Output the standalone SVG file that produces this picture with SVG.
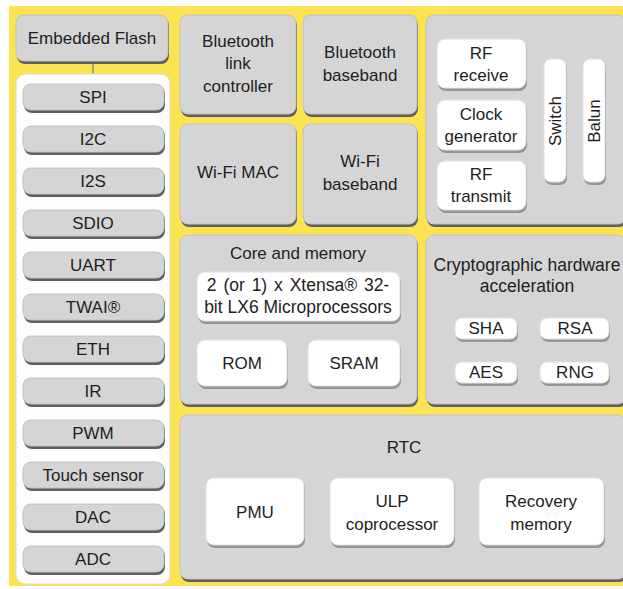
<svg xmlns="http://www.w3.org/2000/svg" width="623" height="589" viewBox="0 0 623 589">
<defs>
<style>
text{font-family:"Liberation Sans",Arial,sans-serif;font-size:17px;fill:#1e1e1e;text-anchor:middle}
.g{fill:#d5d5d5;stroke:#c2c2c2;stroke-width:1}
.w{fill:#ffffff;stroke:#e2e2e2;stroke-width:1}
.s{fill:#5f5f5f}
.sl{fill:#959595}
.ln{stroke:#8a8a8a;stroke-width:1.5;fill:none}
</style>
</defs>
<rect x="0" y="0" width="623" height="589" fill="#ffffff"/>
<rect x="9" y="6" width="614" height="580" fill="#fbe352"/>

<g id="connectors">
<line class="ln" x1="93" y1="62" x2="93" y2="85"/>
</g>

<g id="embedded-flash">
<rect class="s" x="17" y="17" width="152" height="47" rx="8"/>
<rect class="g" x="16" y="15" width="152" height="46" rx="8"/>
<text x="92" y="44">Embedded Flash</text>
</g>

<g id="peripherals-panel">
<rect x="16" y="74" width="154" height="510" rx="9" fill="#fdfdfb" stroke="#dcdcd4"/>
</g>
<g id="spi"><rect class="s" x="24" y="86" width="141" height="27" rx="8"/><rect class="g" x="23" y="84" width="141" height="26" rx="8"/><text x="93" y="103">SPI</text></g>
<g id="i2c"><rect class="s" x="24" y="128" width="141" height="27" rx="8"/><rect class="g" x="23" y="126" width="141" height="26" rx="8"/><text x="93" y="145">I2C</text></g>
<g id="i2s"><rect class="s" x="24" y="170" width="141" height="27" rx="8"/><rect class="g" x="23" y="168" width="141" height="26" rx="8"/><text x="93" y="187">I2S</text></g>
<g id="sdio"><rect class="s" x="24" y="212" width="141" height="27" rx="8"/><rect class="g" x="23" y="210" width="141" height="26" rx="8"/><text x="93" y="229">SDIO</text></g>
<g id="uart"><rect class="s" x="24" y="254" width="141" height="27" rx="8"/><rect class="g" x="23" y="252" width="141" height="26" rx="8"/><text x="93" y="271">UART</text></g>
<g id="twai"><rect class="s" x="24" y="296" width="141" height="27" rx="8"/><rect class="g" x="23" y="294" width="141" height="26" rx="8"/><text x="93" y="313">TWAI®</text></g>
<g id="eth"><rect class="s" x="24" y="338" width="141" height="27" rx="8"/><rect class="g" x="23" y="336" width="141" height="26" rx="8"/><text x="93" y="355">ETH</text></g>
<g id="ir"><rect class="s" x="24" y="380" width="141" height="27" rx="8"/><rect class="g" x="23" y="378" width="141" height="26" rx="8"/><text x="93" y="397">IR</text></g>
<g id="pwm"><rect class="s" x="24" y="422" width="141" height="27" rx="8"/><rect class="g" x="23" y="420" width="141" height="26" rx="8"/><text x="93" y="439">PWM</text></g>
<g id="touch-sensor"><rect class="s" x="24" y="464" width="141" height="27" rx="8"/><rect class="g" x="23" y="462" width="141" height="26" rx="8"/><text x="93" y="481">Touch sensor</text></g>
<g id="dac"><rect class="s" x="24" y="506" width="141" height="27" rx="8"/><rect class="g" x="23" y="504" width="141" height="26" rx="8"/><text x="93" y="523">DAC</text></g>
<g id="adc"><rect class="s" x="24" y="548" width="141" height="27" rx="8"/><rect class="g" x="23" y="546" width="141" height="26" rx="8"/><text x="93" y="565">ADC</text></g>

<g id="bt-link-controller">
<rect class="s" x="181" y="17" width="116" height="100" rx="8"/>
<rect class="g" x="180" y="15" width="116" height="99" rx="8"/>
<text x="238" y="47">Bluetooth</text><text x="238" y="69">link</text><text x="238" y="92">controller</text>
</g>
<g id="bt-baseband">
<rect class="s" x="304" y="17" width="114" height="100" rx="8"/>
<rect class="g" x="303" y="15" width="114" height="99" rx="8"/>
<text x="360" y="58">Bluetooth</text><text x="360" y="81">baseband</text>
</g>
<g id="wifi-mac">
<rect class="s" x="181" y="126" width="116" height="101" rx="8"/>
<rect class="g" x="180" y="124" width="116" height="100" rx="8"/>
<text x="238" y="178">Wi-Fi MAC</text>
</g>
<g id="wifi-baseband">
<rect class="s" x="304" y="126" width="114" height="101" rx="8"/>
<rect class="g" x="303" y="124" width="114" height="100" rx="8"/>
<text x="360" y="167">Wi-Fi</text><text x="360" y="190">baseband</text>
</g>

<g id="rf-panel">
<rect class="s" x="427" y="17" width="200" height="210" rx="8"/>
<rect class="g" x="426" y="15" width="200" height="209" rx="8"/>
</g>
<g id="rf-receive"><rect class="sl" x="438" y="41" width="89" height="50" rx="8"/><rect class="w" x="437" y="39" width="89" height="49" rx="8"/><text x="481" y="59">RF</text><text x="481" y="81">receive</text></g>
<g id="clock-generator"><rect class="sl" x="438" y="102" width="89" height="51" rx="8"/><rect class="w" x="437" y="100" width="89" height="50" rx="8"/><text x="481" y="120">Clock</text><text x="481" y="142">generator</text></g>
<g id="rf-transmit"><rect class="sl" x="438" y="163" width="89" height="50" rx="8"/><rect class="w" x="437" y="161" width="89" height="49" rx="8"/><text x="481" y="180">RF</text><text x="481" y="202">transmit</text></g>
<g id="switch"><rect class="sl" x="545" y="61" width="22" height="124" rx="7"/><rect class="w" x="544" y="59" width="22" height="123" rx="7"/><text transform="translate(561,121) rotate(-90)">Switch</text></g>
<g id="balun"><rect class="sl" x="584" y="61" width="22" height="124" rx="7"/><rect class="w" x="583" y="59" width="22" height="123" rx="7"/><text transform="translate(600,121) rotate(-90)">Balun</text></g>

<g id="core-memory">
<rect class="s" x="181" y="237" width="237" height="170" rx="8"/>
<rect class="g" x="180" y="235" width="237" height="169" rx="8"/>
<text x="298" y="259">Core and memory</text>
</g>
<g id="xtensa"><rect class="sl" x="198" y="274" width="203" height="50" rx="8"/><rect class="w" x="197" y="272" width="203" height="49" rx="8"/><text x="298" y="291" style="font-size:17.5px;word-spacing:2px">2 (or 1) x Xtensa® 32-</text><text x="298" y="313" style="font-size:17.5px">bit LX6 Microprocessors</text></g>
<g id="rom"><rect class="sl" x="198" y="342" width="90" height="47" rx="8"/><rect class="w" x="197" y="340" width="90" height="46" rx="8"/><text x="242" y="369">ROM</text></g>
<g id="sram"><rect class="sl" x="309" y="342" width="92" height="47" rx="8"/><rect class="w" x="308" y="340" width="92" height="46" rx="8"/><text x="354" y="369">SRAM</text></g>

<g id="crypto">
<rect class="s" x="427" y="237" width="200" height="170" rx="8"/>
<rect class="g" x="426" y="235" width="200" height="169" rx="8"/>
<text x="527" y="271" style="font-size:17.5px">Cryptographic hardware</text><text x="527" y="292" style="font-size:17.5px">acceleration</text>
</g>
<g id="sha"><rect class="sl" x="456" y="320" width="62" height="22" rx="7"/><rect class="w" x="455" y="318" width="62" height="21" rx="7"/><text x="486" y="334">SHA</text></g>
<g id="rsa"><rect class="sl" x="541" y="320" width="69" height="22" rx="7"/><rect class="w" x="540" y="318" width="69" height="21" rx="7"/><text x="575" y="334">RSA</text></g>
<g id="aes"><rect class="sl" x="456" y="364" width="62" height="22" rx="7"/><rect class="w" x="455" y="362" width="62" height="21" rx="7"/><text x="486" y="378">AES</text></g>
<g id="rng"><rect class="sl" x="541" y="364" width="69" height="22" rx="7"/><rect class="w" x="540" y="362" width="69" height="21" rx="7"/><text x="575" y="378">RNG</text></g>

<g id="rtc">
<rect class="s" x="181" y="417" width="446" height="165" rx="8"/>
<rect class="g" x="180" y="415" width="446" height="164" rx="8"/>
<text x="404" y="453">RTC</text>
</g>
<g id="pmu"><rect class="sl" x="207" y="480" width="98" height="68" rx="8"/><rect class="w" x="206" y="478" width="98" height="67" rx="8"/><text x="255" y="518">PMU</text></g>
<g id="ulp"><rect class="sl" x="331" y="480" width="124" height="68" rx="8"/><rect class="w" x="330" y="478" width="124" height="67" rx="8"/><text x="392" y="507">ULP</text><text x="392" y="530">coprocessor</text></g>
<g id="recovery-memory"><rect class="sl" x="480" y="480" width="125" height="68" rx="8"/><rect class="w" x="479" y="478" width="125" height="67" rx="8"/><text x="541" y="507">Recovery</text><text x="541" y="530">memory</text></g>
</svg>
